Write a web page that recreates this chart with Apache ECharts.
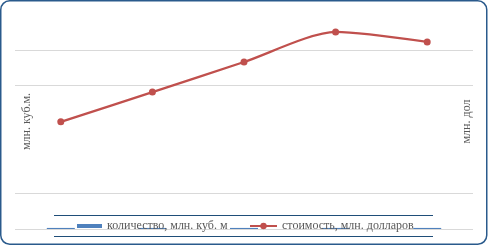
<!DOCTYPE html>
<html>
<head>
<meta charset="utf-8">
<script src="https://cdn.jsdelivr.net/npm/echarts@6/dist/echarts.min.js"></script>
<style>html,body{margin:0;padding:0;background:#fff}#c{width:489px;height:246px}</style>
</head>
<body>
<div id="c"></div>
<script>
var categories = ['1', '2', '3', '4', '5'];
var quantity = [3, 3, 3, 3, 3];
var cost = [299, 382, 466, 550, 522];
var seriesNames = ['количество, млн. куб. м', 'стоимость, млн. долларов'];
var axisTitles = ['млн. куб.м.', 'млн. дол'];

var chart = echarts.init(document.getElementById('c'), null, {renderer: 'canvas'});
var font = 'Liberation Serif';
var grey = '#595959';
var gl = '#d9d9d9', none = 'rgba(0,0,0,0)';
chart.setOption({
  animation: false,
  grid: {left: 15, right: 16, top: 14, bottom: 17, containLabel: false, outerBoundsMode: 'none'},
  xAxis: {
    type: 'category', data: categories, boundaryGap: true,
    axisLine: {show: false}, axisTick: {show: false}, axisLabel: {show: false}
  },
  yAxis: [{
    type: 'value', min: 0, max: 600, interval: 100,
    axisLine: {show: false}, axisTick: {show: false}, axisLabel: {show: false},
    splitLine: {show: true, lineStyle: {color: [gl, gl, none, none, gl, gl, none], width: 1}},
    name: axisTitles[0], nameLocation: 'middle', nameRotate: 90, nameGap: -18,
    nameTextStyle: {fontFamily: font, fontSize: 12, color: grey}
  }, {
    type: 'value', min: 0, max: 600, interval: 100, position: 'right',
    axisLine: {show: false}, axisTick: {show: false}, axisLabel: {show: false},
    splitLine: {show: false},
    name: axisTitles[1], nameLocation: 'middle', nameRotate: 90, nameGap: -12,
    nameTextStyle: {fontFamily: font, fontSize: 12, color: grey}
  }],
  legend: [{
    data: [{name: seriesNames[0], icon: 'rect'}],
    left: 77, top: 220, padding: 0, itemWidth: 25, itemHeight: 4,
    textStyle: {fontFamily: font, fontSize: 12, color: grey}
  }, {
    data: [seriesNames[1]],
    left: 249, top: 220, padding: 0, itemWidth: 27, itemHeight: 8,
    textStyle: {fontFamily: font, fontSize: 12, color: grey}
  }],
  graphic: [
    {type: 'rect', shape: {x: 0.75, y: 0.75, width: 486, height: 243.5, r: 9}, style: {fill: 'none', stroke: '#2a5a8c', lineWidth: 1.5}, silent: true},
    {type: 'line', shape: {x1: 54, y1: 215.5, x2: 433, y2: 215.5}, style: {stroke: '#1f4e79', lineWidth: 1}, silent: true},
    {type: 'line', shape: {x1: 54, y1: 236.5, x2: 433, y2: 236.5}, style: {stroke: '#1f4e79', lineWidth: 1}, silent: true}
  ],
  series: [{
    name: seriesNames[0], type: 'bar', yAxisIndex: 0, data: quantity, barWidth: 28,
    itemStyle: {color: '#4f81bd'}
  }, {
    name: seriesNames[1], type: 'line', yAxisIndex: 1, data: cost, smooth: 0.25,
    symbol: 'circle', symbolSize: 7,
    lineStyle: {color: '#c0504d', width: 2.25}, itemStyle: {color: '#c0504d'}
  }]
});
</script>
</body>
</html>
